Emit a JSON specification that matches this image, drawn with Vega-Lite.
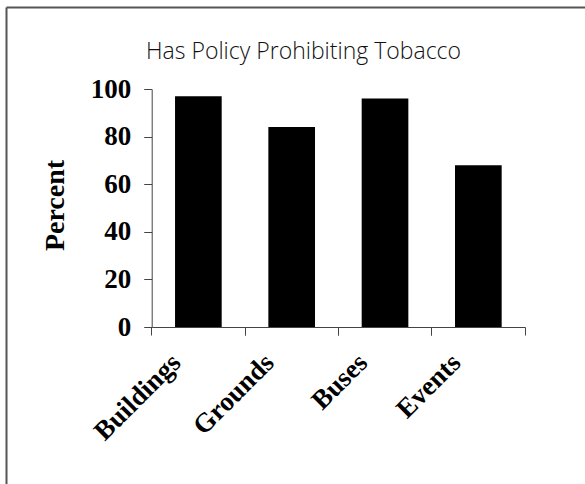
{
  "$schema": "https://vega.github.io/schema/vega-lite/v6.json",
  "width": 579,
  "height": 477,
  "autosize": {"type": "none"},
  "padding": {"left": 6, "top": 7, "right": 0, "bottom": 0},
  "background": "white",
  "config": {"view": {"stroke": null}},
  "data": {"values": [
    {"category": "Buildings", "value": 97},
    {"category": "Grounds", "value": 84},
    {"category": "Buses", "value": 96},
    {"category": "Events", "value": 68}
  ]},
  "layer": [
    {
      "mark": {"type": "point", "opacity": 0},
      "encoding": {
        "x": {"field": "value", "type": "quantitative", "scale": {"zero": true},
          "axis": {"orient": "top", "domain": true, "domainColor": "#555", "domainWidth": 2, "ticks": false, "labels": false, "grid": false,
            "title": "Has Policy Prohibiting Tobacco", "titleFont": "Open Sans", "titleFontSize": 23, "titleFontWeight": 300, "titleColor": "#111",
            "titleX": 297, "titleY": 51, "titleAlign": "center", "titleBaseline": "alphabetic", "titleAngle": 0}},
        "y": {"field": "value", "type": "quantitative",
          "axis": {"orient": "left", "domain": true, "domainColor": "#555", "domainWidth": 2, "ticks": false, "labels": false, "grid": false, "title": null}}
      }
    },
    {
      "mark": {"type": "bar", "color": "black", "width": {"band": 0.5}},
      "encoding": {
        "x": {"field": "category", "type": "nominal", "sort": null,
          "scale": {"range": [145.7, 519], "paddingInner": 0, "paddingOuter": 0},
          "axis": {"orient": "bottom", "offset": -157, "bandPosition": 0, "labelOffset": -31, "labelAngle": -45,
            "labelFont": "Liberation Serif", "labelFontWeight": "bold", "labelFontSize": 27, "labelColor": "black", "labelPadding": 14,
            "domainColor": "#444", "tickColor": "#444", "tickSize": 8, "grid": false, "title": null}},
        "y": {"field": "value", "type": "quantitative",
          "scale": {"domain": [0, 100], "range": [320, 82]},
          "axis": {"orient": "left", "offset": -145.7, "values": [0, 20, 40, 60, 80, 100], "grid": false,
            "labelFont": "Liberation Serif", "labelFontWeight": "bold", "labelFontSize": 27, "labelColor": "black", "labelPadding": 13,
            "domainColor": "#444", "tickColor": "#444", "tickSize": 8,
            "title": "Percent", "titleFont": "Liberation Serif", "titleFontWeight": "bold", "titleFontSize": 28, "titleColor": "black",
            "titleX": -96, "titleY": 198, "titleAngle": -90, "titleAlign": "center", "titleBaseline": "middle"}}
      }
    },
    {
      "mark": {"type": "bar", "opacity": 0, "width": {"band": 0.5}},
      "encoding": {
        "x": {"field": "category", "type": "nominal", "sort": null,
          "scale": {"range": [145.7, 519], "paddingInner": 0, "paddingOuter": 0},
          "axis": {"orient": "bottom", "offset": -157, "bandPosition": 1, "labels": false, "domain": false,
            "tickColor": "#444", "tickSize": 8, "grid": false, "title": null}},
        "y": {"field": "value", "type": "quantitative",
          "scale": {"domain": [0, 100], "range": [320, 82]}, "axis": null}
      }
    }
  ],
  "resolve": {"scale": {"x": "independent", "y": "independent"}, "axis": {"x": "independent", "y": "independent"}}
}
